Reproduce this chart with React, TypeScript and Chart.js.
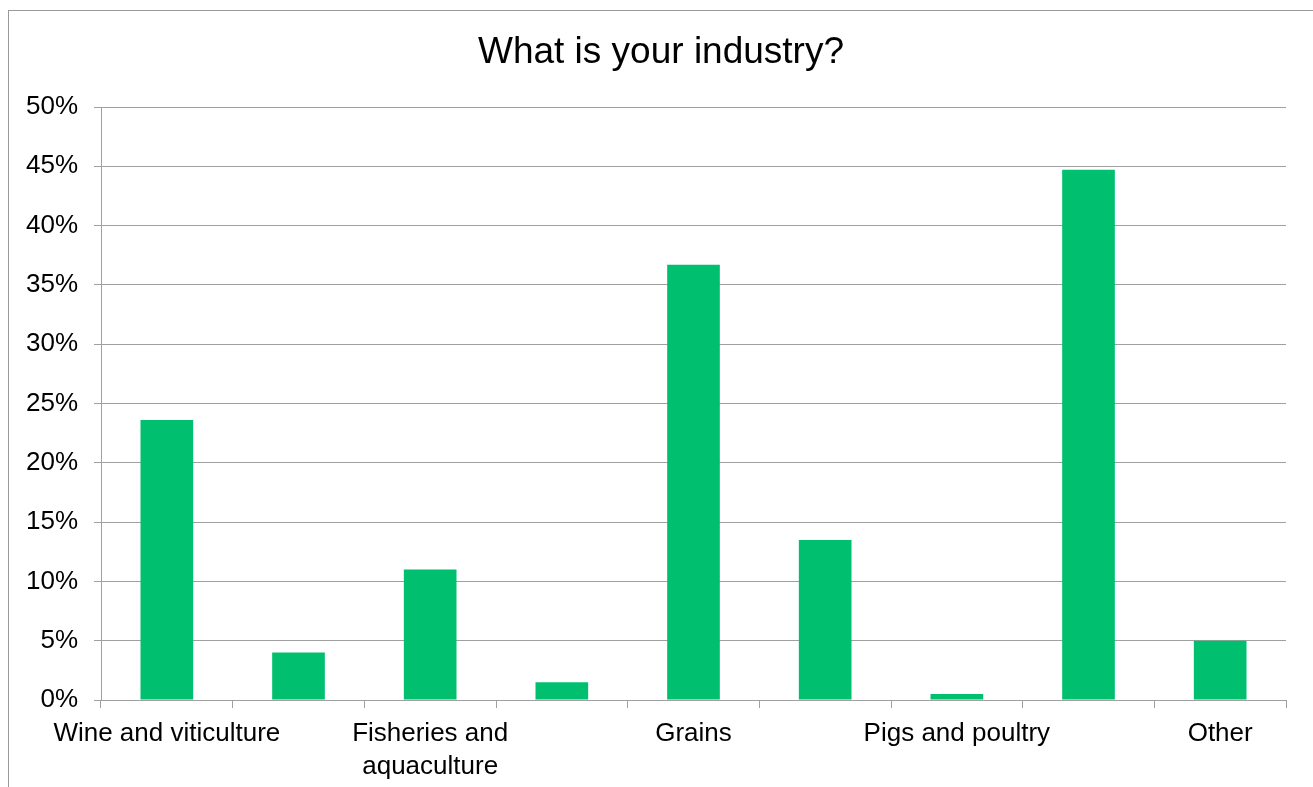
import React, { useEffect, useRef } from "react";
import { Chart, registerables } from "chart.js";

Chart.register(...registerables);

const chartTitle = "What is your industry?";
const categories: (string | string[])[] = [
  "Wine and viticulture",
  "",
  ["Fisheries and", "aquaculture"],
  "",
  "Grains",
  "",
  "Pigs and poultry",
  "",
  "Other",
];
const shares: number[] = [23.6, 4.0, 11.0, 1.5, 36.7, 13.5, 0.5, 44.7, 5.0];
const yTicks: number[] = [0, 5, 10, 15, 20, 25, 30, 35, 40, 45, 50];

const FONT = "'Liberation Sans', Arial, sans-serif";
const GRID = "#a0a0a0";

const framePlugin = {
  id: "frameAndTitle",
  beforeDraw(chart: any) {
    const ctx = chart.ctx;
    ctx.save();
    ctx.fillStyle = "#ffffff";
    ctx.fillRect(0, 0, chart.width, chart.height);
    ctx.strokeStyle = "#9a9a9a";
    ctx.lineWidth = 1;
    ctx.strokeRect(8.5, 10.5, 1400, 900);
    ctx.fillStyle = "#000000";
    ctx.font = `37px ${FONT}`;
    ctx.textAlign = "center";
    ctx.textBaseline = "middle";
    ctx.fillText(chartTitle, 661, 53);
    ctx.restore();
  },
};

export default function App() {
  const ref = useRef<HTMLCanvasElement | null>(null);
  useEffect(() => {
    if (!ref.current) return;
    const chart = new Chart(ref.current, {
      type: "bar",
      data: {
        labels: categories,
        datasets: [
          {
            data: shares,
            backgroundColor: "#00c070",
            barPercentage: 0.4,
            categoryPercentage: 1,
          },
        ],
      },
      plugins: [framePlugin],
      options: {
        responsive: false,
        animation: false,
        layout: { padding: { left: 0, right: 27, top: 107, bottom: 0 } },
        plugins: {
          legend: { display: false },
          tooltip: { enabled: false },
          title: { display: false },
        },
        scales: {
          x: {
            afterFit: (s: any) => {
              s.height = 87;
            },
            grid: {
              drawOnChartArea: false,
              drawTicks: true,
              tickLength: 8,
              color: GRID,
              offset: true,
            },
            border: { display: true, color: GRID },
            ticks: {
              autoSkip: false,
              maxRotation: 0,
              color: "#000000",
              padding: 10,
              font: { family: FONT, size: 26, lineHeight: 1.25 },
            },
          },
          y: {
            min: 0,
            max: 50,
            afterFit: (s: any) => {
              s.width = 101;
            },
            afterBuildTicks: (s: any) => {
              s.ticks = yTicks.map((v) => ({ value: v }));
            },
            grid: { color: GRID, tickLength: 7, drawTicks: true },
            border: { display: true, color: GRID },
            ticks: {
              color: "#000000",
              padding: 16,
              font: { family: FONT, size: 26 },
              callback: (v: any) => v + "%",
            },
          },
        },
      },
    });
    return () => chart.destroy();
  }, []);
  return (
    <div style={{ position: "absolute", left: 0, top: 0, width: 1313, height: 787 }}>
      <canvas ref={ref} width={1313} height={787} />
    </div>
  );
}
